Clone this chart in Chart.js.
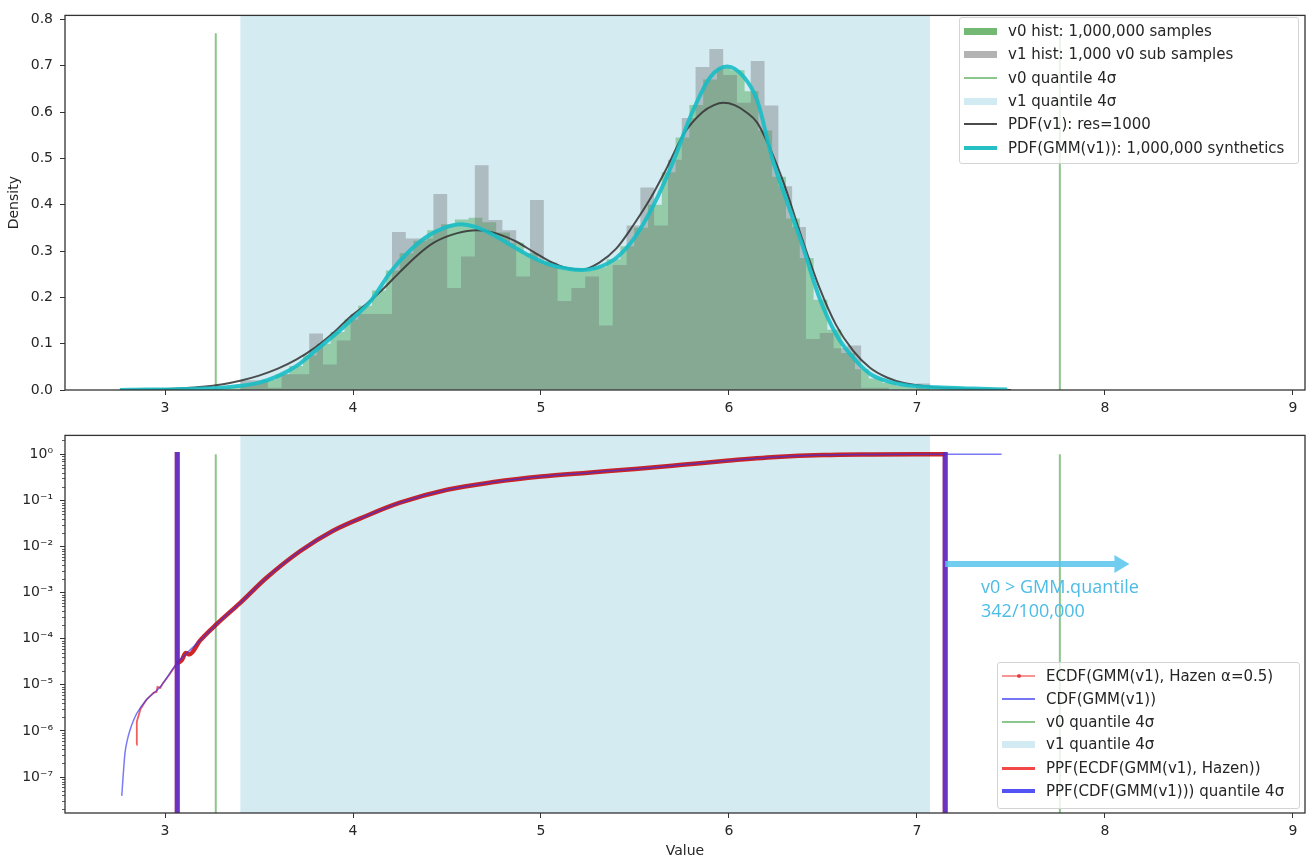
<!DOCTYPE html>
<html>
<head>
<meta charset="utf-8">
<script src="https://cdn.jsdelivr.net/npm/chart.js@4.4.0/dist/chart.umd.min.js"></script>
<style>
  body { margin: 0; background: #fff; width: 1310px; height: 861px; overflow: hidden; position: relative; font-family: "DejaVu Sans", sans-serif; }
  #graficoDensidad { position: absolute; left: 0; top: 0; }
  #graficoAcumulada { position: absolute; left: 0; top: 420px; }
  .leyenda { position: absolute; background: rgba(255,255,255,0.8); border: 1px solid #d4d4d4; border-radius: 3px; font: 15px "DejaVu Sans", sans-serif; color: #262626; }
  .fila { position: absolute; left: 0; height: 20px; display: flex; align-items: center; white-space: nowrap; }
  .marca { width: 33px; margin-left: 4px; margin-right: 11px; }
  .nota { position: absolute; font: 18px "Open Sans", sans-serif; line-height: 24px; color: #4cbce6; white-space: nowrap; }
</style>
</head>
<body>
<canvas id="graficoDensidad" width="1310" height="420"></canvas>
<canvas id="graficoAcumulada" width="1310" height="441"></canvas>

<div class="leyenda" style="left:959px; top:17px; width:338px; height:145px;">
  <div class="fila" style="top:3px"><div class="marca" style="height:7px; background:rgba(0,128,0,0.55)"></div>v0 hist: 1,000,000 samples</div>
  <div class="fila" style="top:26px"><div class="marca" style="height:7px; background:rgba(128,128,128,0.6)"></div>v1 hist: 1,000 v0 sub samples</div>
  <div class="fila" style="top:50px"><div class="marca" style="height:2px; background:rgba(0,128,0,0.45)"></div>v0 quantile 4σ</div>
  <div class="fila" style="top:73px"><div class="marca" style="height:7px; background:rgba(173,216,230,0.55)"></div>v1 quantile 4σ</div>
  <div class="fila" style="top:96px"><div class="marca" style="height:2px; background:#4a4a4a"></div>PDF(v1): res=1000</div>
  <div class="fila" style="top:120px"><div class="marca" style="height:4px; background:#25c0c6"></div>PDF(GMM(v1)): 1,000,000 synthetics</div>
</div>

<div class="leyenda" style="left:997px; top:662px; width:301px; height:145px;">
  <div class="fila" style="top:3px"><div class="marca" style="height:2px; background:rgba(240,60,60,0.55); position:relative"><div style="position:absolute; left:15px; top:-1px; width:4px; height:4px; border-radius:2px; background:rgba(220,40,40,0.8)"></div></div>ECDF(GMM(v1), Hazen α=0.5)</div>
  <div class="fila" style="top:26px"><div class="marca" style="height:2px; background:rgba(60,60,240,0.7)"></div>CDF(GMM(v1))</div>
  <div class="fila" style="top:49px"><div class="marca" style="height:2px; background:rgba(0,128,0,0.45)"></div>v0 quantile 4σ</div>
  <div class="fila" style="top:71px"><div class="marca" style="height:7px; background:rgba(173,216,230,0.55)"></div>v1 quantile 4σ</div>
  <div class="fila" style="top:95px"><div class="marca" style="height:3px; background:rgba(240,40,40,0.85)"></div>PPF(ECDF(GMM(v1), Hazen))</div>
  <div class="fila" style="top:118px"><div class="marca" style="height:4px; background:rgba(40,40,240,0.8)"></div>PPF(CDF(GMM(v1))) quantile 4σ</div>
</div>

<div class="nota" style="left:981px; top:574px;">v0 &gt; GMM.quantile</div>
<div class="nota" style="left:981px; top:598px;">342/100,000</div>

<script>
// Ejes
const X_MIN = 2.468, X_MAX = 9.064;
const DENS_MAX = 0.8085;
const LOG_MIN = 1.66e-8, LOG_MAX = 2.57;

const xTicks = [3, 4, 5, 6, 7, 8, 9];
const densidadTicks = [0, 0.1, 0.2, 0.3, 0.4, 0.5, 0.6, 0.7, 0.8];
const logTicks = [1, 1e-1, 1e-2, 1e-3, 1e-4, 1e-5, 1e-6, 1e-7];
const logTickLabels = ['10⁰', '10⁻¹', '10⁻²', '10⁻³', '10⁻⁴', '10⁻⁵', '10⁻⁶', '10⁻⁷'];

// Cuantiles (lineas verticales y franja)
const v0Cuantil = [3.27, 7.76];
const v1Cuantil = [3.40, 7.07];
const ppfCuantil = [3.065, 7.15];
const v0CuantilAlto = 0.77;
const ppfAlto = 1.12;

// Histograma v1 (1,000 muestras)
const v1Inicio = 3.40, v1Ancho = 0.0734;
const v1Densidad = [
  0.021, 0.021, 0.005, 0.034, 0.034, 0.122, 0.055, 0.107, 0.164, 0.164,
  0.164, 0.341, 0.327, 0.327, 0.423, 0.220, 0.288, 0.485, 0.367, 0.345,
  0.245, 0.410, 0.275, 0.192, 0.220, 0.245, 0.139, 0.270, 0.355, 0.437,
  0.355, 0.497, 0.587, 0.697, 0.736, 0.680, 0.620, 0.710, 0.614, 0.440,
  0.352, 0.110, 0.123, 0.090, 0.096, 0.005, 0.005, 0.000, 0.000, 0.014
];

// Histograma v0 (1,000,000 muestras)
const v0Inicio = 2.78, v0Ancho = 0.0734;
const v0Densidad = [
  0.000, 0.0005, 0.001, 0.001, 0.002, 0.003, 0.004, 0.006, 0.009, 0.014,
  0.022, 0.034, 0.052, 0.075, 0.100, 0.125, 0.152, 0.182, 0.215, 0.258,
  0.295, 0.322, 0.345, 0.358, 0.368, 0.372, 0.362, 0.340, 0.318, 0.295,
  0.278, 0.266, 0.260, 0.258, 0.265, 0.282, 0.310, 0.350, 0.400, 0.470,
  0.545, 0.615, 0.670, 0.695, 0.690, 0.645, 0.560, 0.460, 0.370, 0.285,
  0.195, 0.130, 0.080, 0.045, 0.025, 0.015, 0.009, 0.006, 0.004, 0.003,
  0.002, 0.001, 0.001, 0.0005
];

// PDF(v1)
const pdfV1X = [2.76, 3.0, 3.1, 3.2, 3.3, 3.4, 3.5, 3.6, 3.7, 3.8, 3.9, 3.98, 4.07, 4.16, 4.25, 4.34, 4.43, 4.55,
  4.66, 4.77, 4.87, 4.96, 5.05, 5.13, 5.22, 5.31, 5.40, 5.49, 5.58, 5.67, 5.76, 5.86, 5.92, 5.97, 6.03, 6.09,
  6.15, 6.22, 6.29, 6.39, 6.48, 6.57, 6.66, 6.75, 6.84, 6.93, 7.10, 7.30, 7.50];
const pdfV1Y = [0.000, 0.002, 0.004, 0.007, 0.012, 0.020, 0.031, 0.046, 0.066, 0.092, 0.125, 0.156, 0.185, 0.218, 0.255, 0.290, 0.318, 0.338,
  0.345, 0.337, 0.320, 0.298, 0.277, 0.264, 0.260, 0.275, 0.305, 0.355, 0.412, 0.480, 0.553, 0.600, 0.615, 0.620, 0.615, 0.600,
  0.577, 0.520, 0.448, 0.325, 0.222, 0.140, 0.085, 0.048, 0.027, 0.015, 0.006, 0.002, 0.000];

// PDF(GMM(v1))
const gmmX = [2.76, 2.9, 3.0, 3.1, 3.2, 3.3, 3.4, 3.5, 3.6, 3.7, 3.8, 3.9, 4.0, 4.1, 4.2, 4.3, 4.4, 4.5, 4.57,
  4.65, 4.75, 4.85, 4.95, 5.05, 5.15, 5.22, 5.3, 5.4, 5.5, 5.6, 5.7, 5.8, 5.9, 5.99, 6.08, 6.15, 6.23,
  6.31, 6.39, 6.48, 6.57, 6.66, 6.75, 6.85, 6.95, 7.1, 7.3, 7.48];
const gmmY = [0.000, 0.001, 0.001, 0.002, 0.003, 0.005, 0.009, 0.016, 0.030, 0.052, 0.085, 0.118, 0.155, 0.195, 0.255, 0.300, 0.333, 0.352, 0.358,
  0.352, 0.334, 0.310, 0.287, 0.270, 0.261, 0.259, 0.264, 0.285, 0.330, 0.400, 0.490, 0.595, 0.675, 0.698, 0.675, 0.625, 0.500,
  0.405, 0.313, 0.200, 0.120, 0.070, 0.035, 0.018, 0.010, 0.006, 0.003, 0.001];

// CDF(GMM(v1))
const cdfX = [2.77, 2.78, 2.787, 2.80, 2.814, 2.83, 2.85, 2.90, 2.973, 3.063, 3.186, 3.276, 3.40, 3.54, 3.718, 3.894,
  4.07, 4.25, 4.5, 4.75, 5.0, 5.25, 5.5, 5.75, 6.0, 6.25, 6.5, 6.75, 7.0, 7.45];
const cdfY = [3.9e-8, 1.5e-7, 3.3e-7, 6.5e-7, 1.05e-6, 1.6e-6, 2.4e-6, 4.7e-6, 8.9e-6, 2.9e-5, 9.1e-5, 2.1e-4, 6.0e-4, 2.1e-3, 7.9e-3, 2.2e-2,
  4.6e-2, 8.9e-2, 0.17, 0.25, 0.33, 0.40, 0.48, 0.59, 0.73, 0.87, 0.96, 0.99, 1.0, 1.0];

// ECDF(GMM(v1), Hazen)
const ecdfX = [2.848, 2.850, 2.87, 2.90, 2.94, 2.955, 2.96, 2.975, 2.99, 3.02, 3.063, 3.09, 3.11, 3.13, 3.186, 3.276, 3.40,
  3.54, 3.718, 3.894, 4.07, 4.25, 4.5, 4.75, 5.0, 5.25, 5.5, 5.75, 6.0, 6.25, 6.5, 6.75, 7.0, 7.15];
const ecdfY = [5e-7, 1.6e-6, 3.0e-6, 4.7e-6, 6.8e-6, 7.0e-6, 9.0e-6, 8.6e-6, 1.1e-5, 1.6e-5, 2.9e-5, 3.5e-5, 4.9e-5, 4.6e-5, 9.1e-5, 2.1e-4, 6.0e-4,
  2.1e-3, 7.9e-3, 2.2e-2, 4.6e-2, 8.9e-2, 0.17, 0.25, 0.33, 0.40, 0.48, 0.59, 0.73, 0.87, 0.96, 0.99, 1.0, 1.0];
// a partir de aqui la ECDF tiene tantos puntos que se ve gruesa
const ecdfDensaDesde = 3.063;

// Flecha de la anotacion
const flechaDesde = [7.15, 4.2e-3];
const flechaHasta = [8.13, 4.2e-3];

// ---- ayudas ----
function puntos(xs, ys) {
  return xs.map((x, i) => ({ x: x, y: ys[i] }));
}

function histograma(inicio, ancho, densidades) {
  // cada barra con sus dos bordes, para dibujar la escalera
  const pts = [{ x: inicio, y: 0 }];
  densidades.forEach((d, i) => {
    pts.push({ x: inicio + i * ancho, y: d });
    pts.push({ x: inicio + (i + 1) * ancho, y: d });
  });
  pts.push({ x: inicio + densidades.length * ancho, y: 0 });
  return pts;
}

function vertical(x, y0, y1) {
  return [{ x: x, y: y0 }, { x: x, y: y1 }];
}

const fuenteTicks = { family: 'DejaVu Sans', size: 14 };
const colorTexto = '#262626';

const marco = {
  id: 'marco',
  afterDatasetsDraw(chart) {
    const { ctx, chartArea: a } = chart;
    ctx.save();
    ctx.strokeStyle = '#333';
    ctx.lineWidth = 1.3;
    ctx.strokeRect(a.left, a.top, a.right - a.left, a.bottom - a.top);
    ctx.restore();
  }
};

const ticksMenores = {
  id: 'ticksMenores',
  afterDraw(chart) {
    const y = chart.scales.y;
    const ctx = chart.ctx;
    const izq = chart.chartArea.left;
    ctx.save();
    ctx.strokeStyle = '#333';
    ctx.lineWidth = 0.8;
    for (let e = -9; e <= 1; e++) {
      for (let m = 2; m <= 9; m++) {
        const v = m * Math.pow(10, e);
        if (v < y.min || v > y.max) continue;
        const p = Math.round(y.getPixelForValue(v)) + 0.5;
        ctx.beginPath();
        ctx.moveTo(izq - 3, p);
        ctx.lineTo(izq, p);
        ctx.stroke();
      }
    }
    ctx.restore();
  }
};

const flecha = {
  id: 'flecha',
  afterDatasetsDraw(chart) {
    const { x, y } = chart.scales;
    const ctx = chart.ctx;
    const x0 = x.getPixelForValue(flechaDesde[0]);
    const y0 = y.getPixelForValue(flechaDesde[1]);
    const x1 = x.getPixelForValue(flechaHasta[0]);
    const cabeza = 15, grosor = 3;
    ctx.save();
    ctx.fillStyle = 'rgba(88,196,236,0.85)';
    ctx.beginPath();
    ctx.moveTo(x0, y0 - grosor);
    ctx.lineTo(x1 - cabeza, y0 - grosor);
    ctx.lineTo(x1 - cabeza, y0 - 9);
    ctx.lineTo(x1, y0);
    ctx.lineTo(x1 - cabeza, y0 + 9);
    ctx.lineTo(x1 - cabeza, y0 + grosor);
    ctx.lineTo(x0, y0 + grosor);
    ctx.closePath();
    ctx.fill();
    ctx.restore();
  }
};

const sinPunto = { pointRadius: 0, pointHoverRadius: 0 };
const transparente = 'rgba(0,0,0,0)';

function ejeX(alto, titulo) {
  const eje = {
    type: 'linear',
    min: X_MIN,
    max: X_MAX,
    afterBuildTicks: s => { s.ticks = xTicks.map(v => ({ value: v })); },
    afterFit: s => { s.height = alto; },
    grid: { display: true, drawOnChartArea: false, drawTicks: true, tickLength: 5, color: '#333' },
    border: { display: false },
    ticks: { font: fuenteTicks, color: colorTexto, padding: 5, maxRotation: 0, autoSkip: false }
  };
  if (titulo) {
    eje.title = { display: true, text: titulo, font: fuenteTicks, color: colorTexto, padding: { top: 4, bottom: 1 } };
  }
  return eje;
}

// ---- grafico de densidad ----
new Chart(document.getElementById('graficoDensidad').getContext('2d'), {
  type: 'line',
  data: {
    datasets: [
      Object.assign({ data: puntos(gmmX, gmmY), borderColor: 'rgba(24,190,198,0.9)', borderWidth: 4, cubicInterpolationMode: 'monotone', fill: false, order: 1 }, sinPunto),
      Object.assign({ data: puntos(pdfV1X, pdfV1Y), borderColor: 'rgba(50,50,50,0.85)', borderWidth: 2, cubicInterpolationMode: 'monotone', fill: false, order: 2 }, sinPunto),
      Object.assign({ data: vertical(v0Cuantil[0], 0, v0CuantilAlto), borderColor: 'rgba(0,128,0,0.45)', borderWidth: 2, fill: false, order: 3 }, sinPunto),
      Object.assign({ data: vertical(v0Cuantil[1], 0, v0CuantilAlto), borderColor: 'rgba(0,128,0,0.45)', borderWidth: 2, fill: false, order: 3 }, sinPunto),
      Object.assign({ data: histograma(v1Inicio, v1Ancho, v1Densidad), borderColor: transparente, borderWidth: 0, backgroundColor: 'rgba(110,110,110,0.38)', fill: 'origin', tension: 0, order: 4 }, sinPunto),
      Object.assign({ data: histograma(v0Inicio, v0Ancho, v0Densidad), borderColor: transparente, borderWidth: 0, backgroundColor: 'rgba(0,128,0,0.3)', fill: 'origin', tension: 0, order: 5 }, sinPunto),
      Object.assign({ data: [{ x: v1Cuantil[0], y: DENS_MAX }, { x: v1Cuantil[1], y: DENS_MAX }], borderColor: transparente, borderWidth: 0, backgroundColor: 'rgba(173,216,230,0.52)', fill: 'origin', order: 6 }, sinPunto)
    ]
  },
  options: {
    responsive: false,
    animation: false,
    events: [],
    layout: { padding: { top: 11, right: 5, left: 0, bottom: 0 } },
    plugins: { legend: { display: false }, tooltip: { enabled: false } },
    scales: {
      x: ejeX(30),
      y: {
        type: 'linear',
        min: 0,
        max: DENS_MAX,
        afterBuildTicks: s => { s.ticks = densidadTicks.map(v => ({ value: v })); },
        afterFit: s => { s.width = 65; },
        grid: { display: true, drawOnChartArea: false, drawTicks: true, tickLength: 5, color: '#333' },
        border: { display: false },
        ticks: { font: fuenteTicks, color: colorTexto, padding: 7, callback: v => v.toFixed(1) },
        title: { display: true, text: 'Density', font: fuenteTicks, color: colorTexto, padding: { top: 6, bottom: 0 } }
      }
    }
  },
  plugins: [marco]
});

// ---- grafico acumulado (log) ----
const ecdfPuntos = puntos(ecdfX, ecdfY);
new Chart(document.getElementById('graficoAcumulada').getContext('2d'), {
  type: 'line',
  data: {
    datasets: [
      Object.assign({ data: vertical(ppfCuantil[0], 1e-9, ppfAlto), borderColor: 'rgba(50,40,245,0.7)', borderWidth: 5, fill: false, clip: 0, order: 1 }, sinPunto),
      Object.assign({ data: vertical(ppfCuantil[1], 1e-9, ppfAlto), borderColor: 'rgba(50,40,245,0.7)', borderWidth: 5, fill: false, clip: 0, order: 1 }, sinPunto),
      Object.assign({ data: vertical(ppfCuantil[0], 1e-9, ppfAlto), borderColor: 'rgba(240,30,30,0.8)', borderWidth: 5, fill: false, clip: 0, order: 2 }, sinPunto),
      Object.assign({ data: vertical(ppfCuantil[1], 1e-9, ppfAlto), borderColor: 'rgba(240,30,30,0.8)', borderWidth: 5, fill: false, clip: 0, order: 2 }, sinPunto),
      Object.assign({ data: puntos(cdfX, cdfY), borderColor: 'rgba(50,50,240,0.65)', borderWidth: 1.5, cubicInterpolationMode: 'monotone', fill: false, order: 3 }, sinPunto),
      Object.assign({ data: ecdfPuntos.filter(p => p.x >= ecdfDensaDesde), borderColor: 'rgba(200,0,0,0.85)', borderWidth: 4.5, cubicInterpolationMode: 'monotone', fill: false, order: 4 }, sinPunto),
      Object.assign({ data: ecdfPuntos.filter(p => p.x <= ecdfDensaDesde), borderColor: 'rgba(235,40,40,0.75)', borderWidth: 1.8, fill: false, order: 4 }, sinPunto),
      Object.assign({ data: vertical(v0Cuantil[0], 1e-9, 1), borderColor: 'rgba(0,128,0,0.45)', borderWidth: 2, fill: false, clip: 0, order: 5 }, sinPunto),
      Object.assign({ data: vertical(v0Cuantil[1], 1e-9, 1), borderColor: 'rgba(0,128,0,0.45)', borderWidth: 2, fill: false, clip: 0, order: 5 }, sinPunto),
      Object.assign({ data: [{ x: v1Cuantil[0], y: LOG_MAX }, { x: v1Cuantil[1], y: LOG_MAX }], borderColor: transparente, borderWidth: 0, backgroundColor: 'rgba(173,216,230,0.52)', fill: 'start', order: 6 }, sinPunto)
    ]
  },
  options: {
    responsive: false,
    animation: false,
    events: [],
    layout: { padding: { top: 14, right: 5, left: 0, bottom: 0 } },
    plugins: { legend: { display: false }, tooltip: { enabled: false } },
    scales: {
      x: ejeX(48, 'Value'),
      y: {
        type: 'logarithmic',
        min: LOG_MIN,
        max: LOG_MAX,
        afterBuildTicks: s => { s.ticks = logTicks.map(v => ({ value: v, major: true })); },
        afterFit: s => { s.width = 65; },
        grid: { display: true, drawOnChartArea: false, drawTicks: true, tickLength: 5, color: '#333' },
        border: { display: false },
        ticks: { font: fuenteTicks, color: colorTexto, padding: 7, autoSkip: false, callback: (v, i) => logTickLabels[i] }
      }
    }
  },
  plugins: [marco, ticksMenores, flecha]
});
</script>
</body>
</html>
